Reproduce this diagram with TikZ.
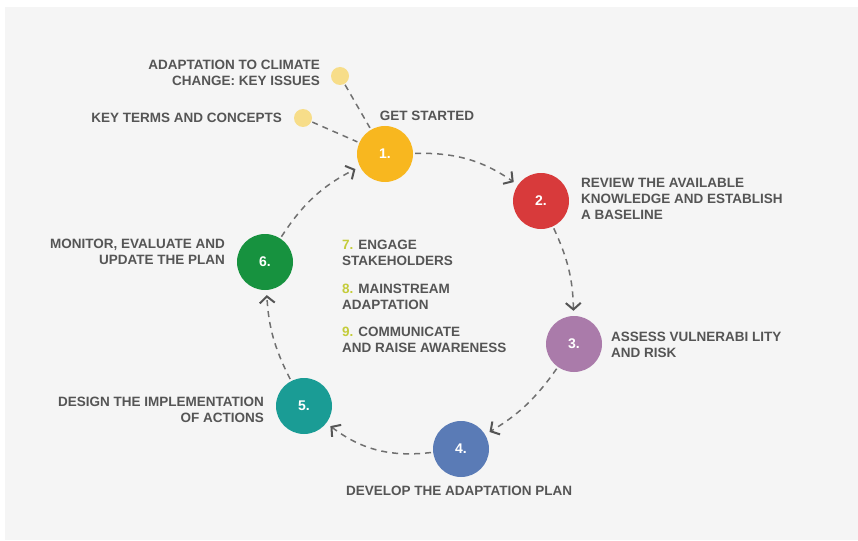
\documentclass[tikz,border=0pt]{standalone}
\usepackage{fontspec}
\setmainfont{Liberation Sans}
\usetikzlibrary{arrows.meta}

\definecolor{bggray}{HTML}{F5F5F5}
\definecolor{txtgray}{HTML}{555555}
\definecolor{dashgray}{HTML}{707070}
\definecolor{tipgray}{HTML}{555555}
\definecolor{dotyellow}{HTML}{F7DD89}
\definecolor{numgreen}{HTML}{C4CC3A}
\definecolor{stageA}{HTML}{F8B71F}
\definecolor{stageB}{HTML}{D83A3B}
\definecolor{stageC}{HTML}{AA7BAA}
\definecolor{stageD}{HTML}{5A7BB6}
\definecolor{stageE}{HTML}{1A9C95}
\definecolor{stageF}{HTML}{17923F}

\begin{document}
\begin{tikzpicture}[x=1pt, y=-1pt,
  stage/.style={circle, minimum size=56pt, inner sep=0pt, text=white, font=\fontsize{14}{16}\selectfont\bfseries},
  extra/.style={circle, minimum size=18pt, inner sep=0pt, fill=dotyellow},
  lbl/.style={inner sep=0pt, text=txtgray, font=\fontsize{13.5}{16}\selectfont\bfseries},
  cyc/.style={draw=dashgray, line width=1.5pt, dash pattern=on 6pt off 5pt,
    -{Straight Barb[length=6.5pt,width=15pt,line width=2pt,color=tipgray]}, shorten >=5pt, shorten <=2pt},
  aux/.style={draw=dashgray, line width=1.5pt, dash pattern=on 6pt off 5pt, shorten <=1pt, shorten >=2pt}]

  \fill[bggray] (5,7) rectangle (858,540);
  \useasboundingbox (0,0) rectangle (858,540);

  % the six steps of the cycle
  \node[stage, fill=stageA] (s1) at (385,154) {1.};
  \node[stage, fill=stageB] (s2) at (541,201) {2.};
  \node[stage, fill=stageC] (s3) at (574,344) {3.};
  \node[stage, fill=stageD] (s4) at (461,449) {4.};
  \node[stage, fill=stageE] (s5) at (304,406) {5.};
  \node[stage, fill=stageF] (s6) at (265,262) {6.};
  \node[extra] (d1) at (340,76) {};
  \node[extra] (d2) at (303,118) {};

  % labels
  \node[lbl] (t1) at (427,116) {GET STARTED};
  \node[lbl, anchor=west, align=left] (t2) at (581,199) {REVIEW THE AVAILABLE\\KNOWLEDGE AND ESTABLISH\\A BASELINE};
  \node[lbl, anchor=west, align=left] (t3) at (611,345) {ASSESS VULNERABI LITY\\AND RISK};
  \node[lbl] (t4) at (459,491) {DEVELOP THE ADAPTATION PLAN};
  \node[lbl, anchor=east, align=right] (t5) at (264,410) {DESIGN THE IMPLEMENTATION\\OF ACTIONS};
  \node[lbl, anchor=east, align=right] (t6) at (225,252) {MONITOR, EVALUATE AND\\UPDATE THE PLAN};
  \node[lbl, anchor=east, align=right] (k1) at (320,73) {ADAPTATION TO CLIMATE\\CHANGE: KEY ISSUES};
  \node[lbl, anchor=east] (k2) at (282,118) {KEY TERMS AND CONCEPTS};
  \node[lbl, anchor=west, align=left] (c7) at (342,253) {\textcolor{numgreen}{7.} ENGAGE\\STAKEHOLDERS};
  \node[lbl, anchor=west, align=left] (c8) at (342,297) {\textcolor{numgreen}{8.} MAINSTREAM\\ADAPTATION};
  \node[lbl, anchor=west, align=left] (c9) at (342,340) {\textcolor{numgreen}{9.} COMMUNICATE\\AND RAISE AWARENESS};

  \path[cyc]
  (s1) edge[bend left=18] (s2)
  (s2) edge[bend left=12] (s3)
  (s3) edge[bend left=12] (s4)
  (s4) edge[bend left=22] (s5)
  (s5) edge[bend left=12] (s6)
  (s6) edge[bend left=15] (s1)
  ;
  \path[aux]
  (d1) edge (s1)
  (d2) edge (s1)
  ;
\end{tikzpicture}
\end{document}
